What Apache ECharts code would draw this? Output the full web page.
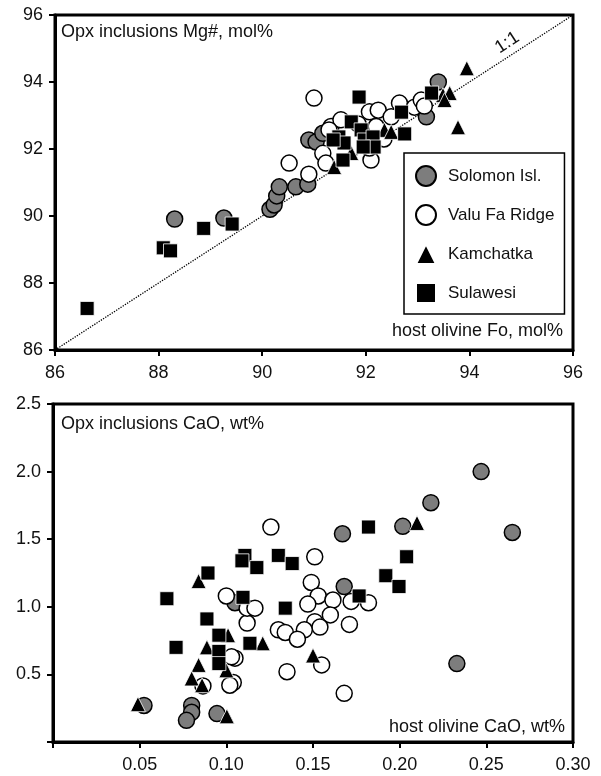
<!DOCTYPE html>
<html>
<head>
<meta charset="utf-8">
<script src="https://cdn.jsdelivr.net/npm/echarts@6/dist/echarts.min.js"></script>
<style>
  html, body { margin: 0; padding: 0; background: #fff; }
  #chart { width: 601px; height: 776px; }
</style>
</head>
<body>
<div id="chart"></div>
<script>
// upper panel: [host olivine Fo, opx inclusion Mg#], mol%
const solomonMg = [[88.31,89.91],[89.26,89.94],[90.15,90.20],[90.23,90.33],[90.28,90.60],[90.33,90.87],[90.65,90.87],
  [90.88,90.95],[90.90,92.27],[91.04,92.21],[91.17,92.47],[93.40,94.00],[93.17,92.96]];
const valuFaMg = [[91.00,93.52],[90.52,91.58],[90.90,91.25],[91.17,91.87],[91.23,91.58],[91.33,92.67],[91.52,92.87],
  [91.29,92.57],[92.07,93.11],[92.24,93.16],[92.10,91.67],[92.20,92.67],[92.07,92.03],[92.49,92.96],[92.65,93.37],
  [92.94,93.25],[93.07,93.46],[93.13,93.28],[91.85,92.75],[92.35,92.30]];
const kamchatkaMg = [[93.95,94.41],[93.78,92.65],[93.49,93.61],[93.62,93.67],[93.52,93.46],[92.36,92.57],[92.49,92.51],
  [91.39,91.46],[91.72,91.88]];
const sulawesiMg = [[86.62,87.24],[88.09,89.05],[88.23,88.96],[88.87,89.63],[89.42,89.76],[91.87,93.55],[93.27,93.67],
  [92.69,93.10],[92.75,92.45],[91.72,92.81],[91.91,92.57],[91.48,92.36],[91.58,92.18],[91.97,92.27],[92.14,92.36],
  [92.16,92.06],[91.95,92.06],[91.56,91.67],[91.37,92.27]];
const oneToOne = [[86,86],[96,96]];

// lower panel: [host olivine CaO, opx inclusion CaO], wt%
const solomonCa = [[0.0525,0.27],[0.080,0.27],[0.080,0.22],[0.077,0.16],[0.0946,0.21],[0.105,1.03],[0.247,2.00],
  [0.218,1.77],[0.2018,1.595],[0.167,1.54],[0.265,1.55],[0.168,1.15],[0.233,0.58]];
const valuFaCa = [[0.1257,1.59],[0.151,1.37],[0.149,1.18],[0.153,1.08],[0.1615,1.05],[0.172,1.04],[0.182,1.03],
  [0.147,1.02],[0.160,0.94],[0.151,0.89],[0.154,0.85],[0.145,0.83],[0.130,0.83],[0.134,0.81],[0.141,0.76],
  [0.171,0.87],[0.155,0.57],[0.135,0.52],[0.168,0.36],[0.112,0.88],[0.112,0.99],[0.1165,0.99],[0.105,0.62],
  [0.104,0.44],[0.100,1.08],[0.0865,0.415],[0.102,0.42],[0.103,0.63]];
const kamchatkaCa = [[0.084,1.19],[0.0888,0.70],[0.084,0.57],[0.080,0.47],[0.086,0.42],[0.049,0.28],[0.1003,0.19],
  [0.101,0.79],[0.100,0.53],[0.121,0.73],[0.150,0.64],[0.210,1.62]];
const sulawesiCa = [[0.182,1.59],[0.204,1.37],[0.192,1.23],[0.1996,1.15],[0.1766,1.08],[0.0657,1.06],[0.0894,1.25],
  [0.1107,1.38],[0.109,1.34],[0.130,1.38],[0.138,1.32],[0.1176,1.29],[0.1096,1.07],[0.134,0.99],[0.0888,0.91],
  [0.071,0.70],[0.0957,0.79],[0.0957,0.67],[0.0957,0.58],[0.1136,0.73]];

const names = ['Solomon Isl.', 'Valu Fa Ridge', 'Kamchatka', 'Sulawesi'];
const font = '"Liberation Sans", Arial, sans-serif';

const markers = {
  'Solomon Isl.': { symbol: 'circle', symbolSize: 16, itemStyle: { color: '#7d7d7d', borderColor: '#000', borderWidth: 1.5, opacity: 1 } },
  'Valu Fa Ridge': { symbol: 'circle', symbolSize: 16, itemStyle: { color: '#fff', borderColor: '#000', borderWidth: 1.5, opacity: 1 } },
  'Kamchatka': { symbol: 'triangle', symbolSize: 15, itemStyle: { color: '#000', borderColor: '#fff', borderWidth: 0.8, opacity: 1 } },
  'Sulawesi': { symbol: 'rect', symbolSize: 14, itemStyle: { color: '#000', borderColor: '#fff', borderWidth: 0.8, opacity: 1 } }
};

function scatter(name, data, idx) {
  return Object.assign({
    name: name,
    type: 'scatter',
    xAxisIndex: idx,
    yAxisIndex: idx,
    data: data,
    emphasis: { disabled: true }
  }, markers[name]);
}

function axis(idx, min, max, interval, fmt, margin) {
  return {
    type: 'value',
    gridIndex: idx,
    min: min,
    max: max,
    interval: interval,
    splitLine: { show: false },
    axisLine: { lineStyle: { color: '#000', width: 3 } },
    axisTick: { length: 6, lineStyle: { color: '#000', width: 2 } },
    axisLabel: { formatter: fmt, margin: margin, fontSize: 18, fontFamily: font, color: '#111' }
  };
}

const chart = echarts.init(document.getElementById('chart'));

chart.setOption({
  animation: false,
  backgroundColor: '#fff',
  grid: [
    { left: 55, top: 15, width: 518, height: 335, show: true, borderColor: '#000', borderWidth: 3 },
    { left: 53, top: 404, width: 520, height: 338, show: true, borderColor: '#000', borderWidth: 3 }
  ],
  xAxis: [
    axis(0, 86, 96, 2, v => String(v), 14),
    axis(1, 0, 0.3, 0.05, v => (v < 0.001 ? '' : v.toFixed(2)), 14)
  ],
  yAxis: [
    axis(0, 86, 96, 2, v => String(v), 12),
    axis(1, 0, 2.5, 0.5, v => (v < 0.001 ? '' : v.toFixed(1)), 12)
  ],
  legend: {
    orient: 'vertical',
    left: 404,
    top: 153,
    padding: [12, 10, 10, 11],
    itemGap: 17,
    itemWidth: 20,
    itemHeight: 20,
    borderColor: '#000',
    borderWidth: 1.5,
    selectedMode: false,
    data: names,
    textStyle: { fontSize: 17, fontFamily: font, color: '#111', padding: [0, 0, 0, 7] }
  },
  series: [
    {
      type: 'line',
      xAxisIndex: 0,
      yAxisIndex: 0,
      data: oneToOne,
      symbol: 'none',
      silent: true,
      z: 1,
      lineStyle: { color: '#000', width: 1.3, type: 'dotted' }
    },
    scatter(names[0], solomonMg, 0),
    scatter(names[1], valuFaMg, 0),
    scatter(names[2], kamchatkaMg, 0),
    scatter(names[3], sulawesiMg, 0),
    scatter(names[0], solomonCa, 1),
    scatter(names[1], valuFaCa, 1),
    scatter(names[2], kamchatkaCa, 1),
    scatter(names[3], sulawesiCa, 1)
  ]
});

// panel captions and the 1:1 tag
const tag = chart.convertToPixel({ gridIndex: 0 }, [94.73, 95.17]);
const textStyle = (t) => ({ text: t, font: '18px ' + font, fill: '#111' });
chart.setOption({
  graphic: [
    { type: 'text', left: 61, top: 23, style: textStyle('Opx inclusions Mg#, mol%') },
    { type: 'text', right: 38, top: 322, style: textStyle('host olivine Fo, mol%') },
    { type: 'text', left: 61, top: 415, style: textStyle('Opx inclusions CaO, wt%') },
    { type: 'text', right: 36, top: 718, style: textStyle('host olivine CaO, wt%') },
    {
      type: 'text', x: tag[0], y: tag[1], rotation: 33 * Math.PI / 180,
      style: Object.assign(textStyle('1:1'), { align: 'center', verticalAlign: 'middle' })
    }
  ]
});
</script>
</body>
</html>
